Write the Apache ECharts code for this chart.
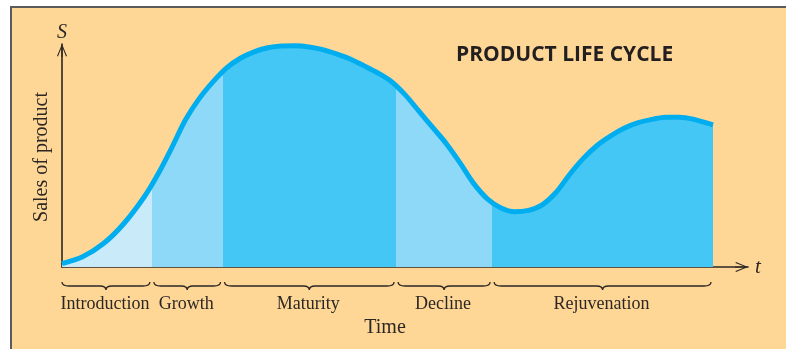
<!DOCTYPE html>
<html>
<head>
<meta charset="utf-8">
<script src="https://cdn.jsdelivr.net/npm/echarts@6/dist/echarts.min.js"></script>
<style>
  body { margin: 0; background: #fff; }
  #frame { position: absolute; left: 10px; top: 6px; width: 800px; height: 360px;
           border-left: 2px solid #5b5b5b; border-top: 2px solid #5b5b5b; background: #fed796; }
  #main { position: absolute; left: 0; top: 0; width: 786px; height: 349px; }
</style>
</head>
<body>
<div id="frame"></div>
<div id="main"></div>
<script>
// curve: time (0..100) vs sales (0..100)
var timeVals = [0, 3, 6, 9, 12, 14, 16, 18, 20, 22, 24, 26, 28, 30, 32, 34, 36, 38, 40, 42, 44, 46,
    48, 50, 52, 54, 56, 58, 60, 62, 64, 66, 68, 70, 72, 74, 76, 78, 80, 82, 84, 86, 88, 90, 92, 94.9];
var salesVals = [1.5, 4.6, 10.4, 19.4, 31.5, 41.7, 53.5, 66, 75.5, 83, 89.3, 93.6, 96.5, 98.3, 99.1, 99.2,
    98.7, 97.5, 95.6, 93.3, 90.3, 87.1, 83.2, 77.3, 70, 62.7, 55.4, 46.8, 37.5, 30.6, 26.5, 24.8,
    25.4, 27.9, 33.4, 41.5, 48.7, 54.5, 58.8, 62.3, 64.7, 66.2, 67.1, 67.2, 66.3, 63.7];

// phases of the cycle
var phases = ['Introduction', 'Growth', 'Maturity', 'Decline', 'Rejuvenation'];
var phaseStart = [0, 13.1, 23.4, 48.7, 62.7];
var phaseEnd = [13.1, 23.4, 48.7, 62.7, 94.9];
var phaseColors = ['#c9eaf9', '#8ed8f8', '#45c7f5', '#8ed8f8', '#45c7f5'];

var ink = '#2d2724';
var serif = '"Liberation Serif", "DejaVu Serif", serif';
// open chevron with a stem, pointing up
var arrowPath = 'path://M5,0 L10,12 L9,12.6 L5,2.4 L1,12.6 L0,12 Z M4.4,1 L5.6,1 L5.6,13 L4.4,13 Z';

var curve = timeVals.map(function (t, i) { return [t, salesVals[i]]; });
var braces = phases.map(function (p, i) { return [phaseStart[i], phaseEnd[i]]; });

var pieces = phases.map(function (p, i) {
    var piece = { color: phaseColors[i] };
    if (i > 0) piece.gte = phaseStart[i];
    if (i < phases.length - 1) piece.lt = phaseEnd[i];
    return piece;
});

function renderBrace(params, api) {
    var p0 = api.coord([api.value(0), 0]);
    var p1 = api.coord([api.value(1), 0]);
    var a = p0[0] + (api.value(0) > 0 ? 2 : 0);
    var b = p1[0] - 2;
    var y = p0[1];
    var m = (a + b) / 2;
    var top = y + 15, mid = y + 19, tip = y + 23;
    var d = 'M' + a + ',' + top + ' Q' + a + ',' + mid + ' ' + (a + 7) + ',' + mid +
        ' L' + (m - 6) + ',' + mid + ' Q' + m + ',' + mid + ' ' + m + ',' + tip +
        ' Q' + m + ',' + mid + ' ' + (m + 6) + ',' + mid +
        ' L' + (b - 7) + ',' + mid + ' Q' + b + ',' + mid + ' ' + b + ',' + top;
    return {
        type: 'group',
        children: [
            { type: 'path', shape: { pathData: d }, style: { fill: null, stroke: ink, lineWidth: 1.3 } },
            { type: 'text', x: m - 1, y: y + 37,
              style: { text: phases[params.dataIndex], fill: ink, font: '18px ' + serif,
                       align: 'center', verticalAlign: 'middle' } }
        ]
    };
}

var chart = echarts.init(document.getElementById('main'));
chart.setOption({
    backgroundColor: 'transparent',
    animation: false,
    title: {
        text: 'PRODUCT LIFE CYCLE', left: 456, top: 45, padding: 0,
        textStyle: { fontFamily: '"Open Sans", sans-serif', fontWeight: 'bold', fontSize: 21, color: '#231f20' }
    },
    grid: { left: 62, right: 38, top: 44, bottom: 82 },
    xAxis: {
        type: 'value', min: 0, max: 100,
        name: 't', nameGap: 7,
        nameTextStyle: { fontFamily: serif, fontStyle: 'italic', fontSize: 21, color: ink },
        axisLine: { lineStyle: { color: ink, width: 1.6 }, symbol: ['none', arrowPath],
                    symbolSize: [12, 13], symbolOffset: [0, -6.5] },
        axisTick: { show: false }, axisLabel: { show: false }, splitLine: { show: false }
    },
    yAxis: {
        type: 'value', min: 0, max: 100,
        name: 'S', nameGap: 1,
        nameTextStyle: { fontFamily: serif, fontStyle: 'italic', fontSize: 20, color: ink },
        axisLine: { lineStyle: { color: ink, width: 1.6 }, symbol: ['none', arrowPath],
                    symbolSize: [12, 13], symbolOffset: [0, -6.5] },
        axisTick: { show: false }, axisLabel: { show: false }, splitLine: { show: false }
    },
    visualMap: {
        show: false, type: 'piecewise', seriesIndex: 0, dimension: 0, pieces: pieces
    },
    graphic: [
        { type: 'text', x: 42, y: 157, rotation: Math.PI / 2,
          style: { text: 'Sales of product', fill: ink, font: '20px ' + serif, align: 'center', verticalAlign: 'middle' } },
        { type: 'text', x: 385, y: 328,
          style: { text: 'Time', fill: ink, font: '20px ' + serif, align: 'center', verticalAlign: 'middle' } }
    ],
    series: [
        {
            type: 'line', data: curve, smooth: 0.3, symbol: 'none', z: 3,
            lineStyle: { color: '#00adef', width: 5 },
            areaStyle: { opacity: 1 }
        },
        {
            type: 'custom', data: braces, renderItem: renderBrace, silent: true,
            encode: { x: [0, 1] }
        }
    ]
});
</script>
</body>
</html>
